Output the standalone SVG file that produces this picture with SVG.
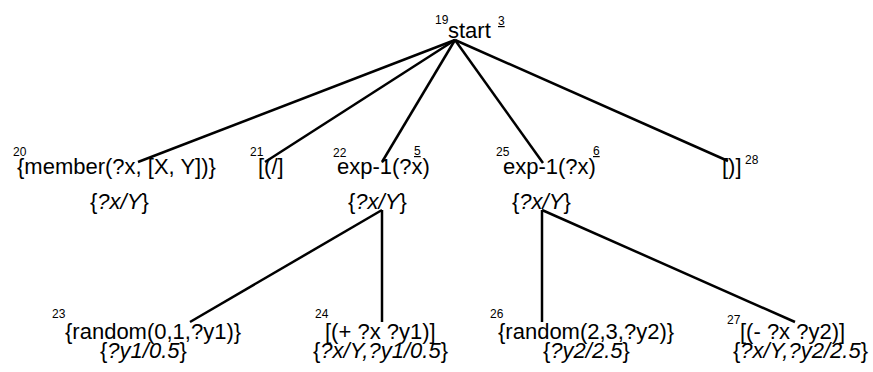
<svg xmlns="http://www.w3.org/2000/svg" width="873" height="372" viewBox="0 0 873 372">
<style>
text{font-family:"Liberation Sans",Arial,sans-serif;fill:#000}
.m{font-size:22px}
.s{font-size:12px}
.i{font-size:22px;font-style:italic}
.u{text-decoration:underline}
.n{font-style:normal}
.c line{stroke:#000;stroke-width:2.5}
</style>
<rect width="873" height="372" fill="#fff"/>
<g class="c" id="connectors">
<line x1="455" y1="40" x2="138" y2="162"/>
<line x1="455" y1="40" x2="265" y2="162"/>
<line x1="455" y1="40" x2="382" y2="162"/>
<line x1="455" y1="40" x2="543" y2="163"/>
<line x1="455" y1="40" x2="728" y2="161"/>
<line x1="382" y1="210" x2="190" y2="322"/>
<line x1="382" y1="210" x2="382" y2="322"/>
<line x1="542" y1="210" x2="542" y2="322"/>
<line x1="542" y1="210" x2="795" y2="322"/>
</g>
<g id="n19">
<text class="s" x="435" y="24">19</text>
<text class="m" x="448" y="38">start</text>
<text class="s u" x="498" y="25">3</text>
</g>
<g id="n20">
<text class="s" x="13" y="156">20</text>
<text class="m" x="17" y="174">{member(?x, [X, Y])}</text>
<text class="i" x="90" y="209"><tspan class="n">{</tspan>?x/Y<tspan class="n">}</tspan></text>
</g>
<g id="n21">
<text class="s" x="250" y="156">21</text>
<text class="m" x="258" y="174">[(/]</text>
</g>
<g id="n22">
<text class="s" x="333" y="157">22</text>
<text class="m" x="337" y="174">exp-1(?x)</text>
<text class="s u" x="414" y="155">5</text>
<text class="i" x="348" y="209"><tspan class="n">{</tspan>?x/Y<tspan class="n">}</tspan></text>
</g>
<g id="n25">
<text class="s" x="496" y="156">25</text>
<text class="m" x="503" y="174">exp-1(?x)</text>
<text class="s u" x="593" y="155">6</text>
<text class="i" x="512" y="209"><tspan class="n">{</tspan>?x/Y<tspan class="n">}</tspan></text>
</g>
<g id="n28">
<text class="m" x="722" y="174">[)]</text>
<text class="s" x="745" y="164">28</text>
</g>
<g id="n23">
<text class="s" x="52" y="318">23</text>
<text class="m" x="65" y="339">{random(0,1,?y1)}</text>
<text class="i" x="100" y="358"><tspan class="n">{</tspan>?y1/0.5<tspan class="n">}</tspan></text>
</g>
<g id="n24">
<text class="s" x="315" y="318">24</text>
<text class="m" x="325" y="339">[(+ ?x ?y1)]</text>
<text class="i" x="313" y="358"><tspan class="n">{</tspan>?x/Y,?y1/0.5<tspan class="n">}</tspan></text>
</g>
<g id="n26">
<text class="s" x="490" y="318">26</text>
<text class="m" x="498" y="339">{random(2,3,?y2)}</text>
<text class="i" x="543" y="358"><tspan class="n">{</tspan>?y2/2.5<tspan class="n">}</tspan></text>
</g>
<g id="n27">
<text class="s" x="727" y="324">27</text>
<text class="m" x="740" y="339">[(- ?x ?y2)]</text>
<text class="i" x="733" y="358"><tspan class="n">{</tspan>?x/Y,?y2/2.5<tspan class="n">}</tspan></text>
</g>
</svg>
